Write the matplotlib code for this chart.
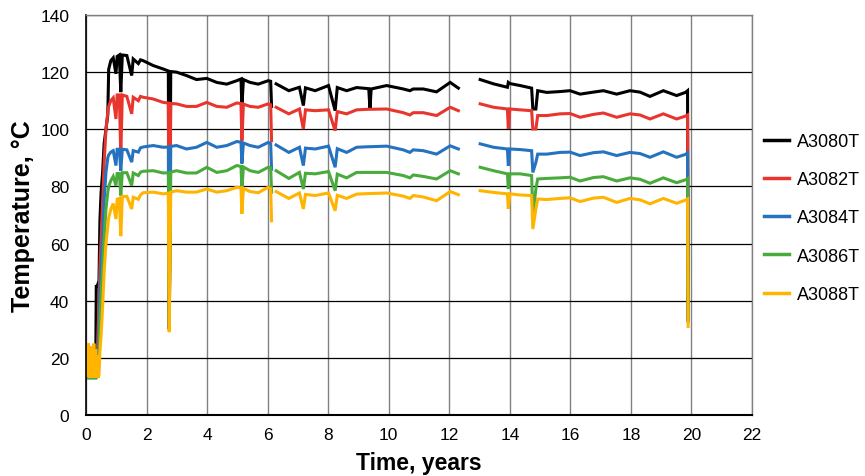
import numpy as np
import matplotlib
matplotlib.use("Agg")
import matplotlib.pyplot as plt

nan = np.nan

# time (years)
t = [0.05, 0.08, 0.11, 0.14, 0.17, 0.20, 0.23, 0.26, 0.29, 0.32,
     0.34, 0.37, 0.40, 0.43, 0.46, 0.50, 0.55, 0.60, 0.66, 0.72,
     0.75, 0.82, 0.90, 0.99, 1.03, 1.10, 1.15, 1.20, 1.35, 1.51,
     1.56, 1.73, 1.80, 1.89, 2.22, 2.55, 2.72, 2.75, 2.80, 2.99,
     3.32, 3.65, 3.99, 4.32, 4.65, 4.98, 5.12, 5.15, 5.20, 5.42,
     5.69, 6.02, 6.10, 6.13, 6.20, 6.28, 6.70, 7.05, 7.18, 7.25,
     7.57, 8.01, 8.23, 8.30, 8.61, 8.94, 9.34, 9.38, 9.42, 9.93,
     10.48, 10.70, 10.81, 11.14, 11.58, 12.03, 12.30, 12.50, 13.02, 13.46,
     13.92, 13.95, 14.00, 14.34, 14.72, 14.76, 14.86, 14.92, 15.22, 15.66,
     15.99, 16.32, 16.76, 17.09, 17.53, 17.97, 18.30, 18.63, 19.07, 19.51,
     19.80, 19.87, 19.89]

a3080t = [14, 14, 14, 14, 14, 14, 14, 14, 14, 14,
          45, 45, 46, 47, 68, 78, 85, 95, 100, 105,
          121, 124, 125, 119.4, 125.5, 126, 113, 126, 125.8, 118.8,
          124.6, 123, 124.3, 124, 122.3, 121.1, 120.4, 30, 120.2, 120,
          118.8, 117.4, 117.8, 116.4, 115.8, 117.0, 117.6, 108, 117.4, 116.4,
          115.8, 117.0, 116.8, 108, nan, 115.9, 113.5, 114.7, 108.3, 114.5,
          113.5, 115.3, 106.5, 114.6, 113.5, 114.6, 114.2, 107.1, 114.1, 115.3,
          114.1, 113.5, 114.1, 114.1, 113.1, 116.4, 114.4, nan, 117.4, 115.9,
          114.7, 116.4, 116.0, 115.3, 114.4, 107.1, 107.1, 113.5, 112.9, 113.2,
          113.5, 112.3, 113.0, 113.5, 112.3, 113.5, 113.0, 111.5, 113.5, 111.8,
          112.9, 113.5, 34]

a3082t = [14, 14, 14, 14, 14, 14, 14, 14, 14, 14,
          16, 20, 30, 40, 52, 62, 75, 88, 100, 106,
          108, 110, 111, 103.6, 112, 112, 91, 112, 111.5, 105.4,
          111.2, 110, 111.5, 111.2, 110.6, 109.4, 109.2, 30, 109, 108.9,
          108.0, 108.0, 109.4, 108.0, 107.7, 109.2, 109, 96, 108.8, 108.0,
          107.7, 108.9, 108.6, 96, nan, 107.7, 105.4, 107.1, 100.1, 106.8,
          106.5, 106.8, 99.5, 106.2, 105.4, 106.8, 107.0, 107.0, 107.0, 107.1,
          105.8, 105.0, 105.8, 105.8, 104.8, 107.7, 106.5, nan, 108.9, 107.7,
          107.1, 100.1, 107.1, 106.8, 106.5, 100.1, 100.1, 104.8, 104.8, 105.4,
          105.5, 104.2, 105.2, 105.7, 104.2, 105.4, 105.0, 103.6, 105.4, 103.6,
          104.6, 105.0, 33]

a3084t = [13, 13, 13, 13, 13, 13, 13, 13, 13, 13,
          14, 15, 20, 30, 42, 52, 62, 75, 85, 90,
          91, 92, 92.5, 87.3, 93, 93, 85.5, 93, 92.8, 88.5,
          92.5, 92, 93.5, 93.8, 94.3, 93.7, 93.8, 31, 94, 94.3,
          93.1, 93.7, 95.4, 93.7, 94.3, 95.7, 95.5, 88, 95.2, 94.3,
          93.7, 95.4, 95.0, 86, nan, 94.5, 91.9, 93.7, 87.3, 93.4,
          93.1, 94.1, 86.7, 93.2, 91.9, 93.7, 93.9, 93.9, 93.9, 94.1,
          92.8, 91.9, 92.8, 92.5, 91.3, 94.2, 93.1, nan, 94.9, 93.7,
          93.1, 87.3, 93.1, 92.9, 92.5, 84.9, 88.4, 91.3, 91.3, 91.9,
          92.0, 90.8, 91.8, 92.1, 90.8, 91.9, 91.5, 90.2, 92.1, 90.2,
          91.2, 91.7, 33]

a3086t = [13, 13, 13, 13, 13, 13, 13, 13, 13, 13,
          13, 14, 16, 22, 32, 42, 52, 62, 72, 78,
          80, 82, 83.5, 80.3, 84.5, 84.5, 76.8, 84.8, 84.8, 80.3,
          84.7, 83.8, 85, 85.3, 85.5, 84.7, 84.8, 33, 85, 85.5,
          84.7, 84.7, 86.7, 84.9, 85.5, 87.3, 87, 79, 86.8, 85.5,
          84.9, 86.7, 86.5, 78, nan, 85.5, 82.8, 84.9, 79.1, 84.6,
          84.4, 85.2, 78.5, 84.3, 83.0, 84.9, 84.9, 84.9, 84.9, 84.9,
          83.8, 83.0, 84.0, 83.5, 82.6, 85.5, 84.4, nan, 86.7, 85.5,
          84.4, 79.1, 84.4, 84.4, 83.8, 69.8, 79.1, 82.6, 82.8, 83.0,
          83.2, 81.9, 83.1, 83.4, 81.9, 83.0, 82.5, 81.1, 83.0, 81.3,
          82.3, 82.7, 33]

a3088t = [14, 25, 13, 24, 13, 22, 14, 25, 13, 23,
          13, 21, 13, 14, 22, 28, 38, 50, 60, 66,
          69, 72, 74, 68.6, 75.5, 75.8, 62.6, 76.5, 76.5, 72.1,
          76.2, 75.5, 77, 77.8, 78.0, 77.4, 77.6, 29, 78, 78.5,
          78.0, 78.0, 79.1, 78.0, 78.5, 79.7, 79.5, 70.4, 79.3, 78.2,
          77.8, 79.7, 79.2, 68, nan, 78.2, 75.8, 77.7, 72.1, 77.2,
          76.8, 77.7, 71.5, 76.9, 75.8, 77.3, 77.5, 77.5, 77.5, 77.7,
          76.6, 75.8, 76.8, 76.3, 75.0, 78.2, 77.1, nan, 78.5, 77.9,
          77.4, 72.1, 77.4, 77.0, 76.8, 65.1, 72.1, 75.6, 75.4, 75.8,
          76.0, 74.7, 75.9, 76.2, 74.4, 75.8, 75.3, 73.9, 75.8, 74.1,
          75.2, 75.6, 31]

labels = ["A3080T", "A3082T", "A3084T", "A3086T", "A3088T"]
colors = ["#000000", "#E8352E", "#2472C0", "#4AAB3D", "#FFB400"]

x_ticks = list(range(0, 23, 2))
y_ticks = list(range(0, 141, 20))

plain = ["Liberation Sans", "Arial", "DejaVu Sans"]
plt.rcParams["font.family"] = plain

fig = plt.figure(figsize=(8.65, 4.77), dpi=100)
ax = fig.add_axes([0.0994, 0.1279, 0.7700, 0.8386])

series = [a3080t, a3082t, a3084t, a3086t, a3088t]
for vals, lab, col in zip(series, labels, colors):
    ax.plot(t, vals, color=col, lw=2.2, label=lab, solid_joinstyle="miter")

ax.set_xlim(0, 22)
ax.set_ylim(0, 140)
ax.set_xticks(x_ticks)
ax.set_yticks(y_ticks)
ax.xaxis.grid(True, color="#808080", lw=1.0)
ax.yaxis.grid(True, color="#000000", lw=0.9)
ax.set_axisbelow(True)
for s in ax.spines.values():
    s.set_color("#808080")
    s.set_linewidth(1.0)
ax.spines["left"].set_color("black")
ax.spines["bottom"].set_color("black")
ax.spines["bottom"].set_linewidth(1.5)
ax.spines["left"].set_linewidth(1.2)

ax.tick_params(axis="both", length=0, labelsize=12.5)
ax.tick_params(axis="y", pad=12)
ax.tick_params(axis="x", pad=9)

ax.set_xlabel("Time, years", fontsize=16.5, fontweight="bold", labelpad=6)
ax.set_ylabel("Temperature, °C", fontsize=18, fontweight="bold", labelpad=4)

leg = ax.legend(loc="center left", bbox_to_anchor=(1.018, 0.4925), frameon=False,
                borderaxespad=0, borderpad=0,
                handlelength=1.4, handletextpad=0.45, labelspacing=1.18,
                prop={"size": 13})
for h in leg.get_lines():
    h.set_linewidth(2.5)

fig.savefig("out.png", dpi=100)
